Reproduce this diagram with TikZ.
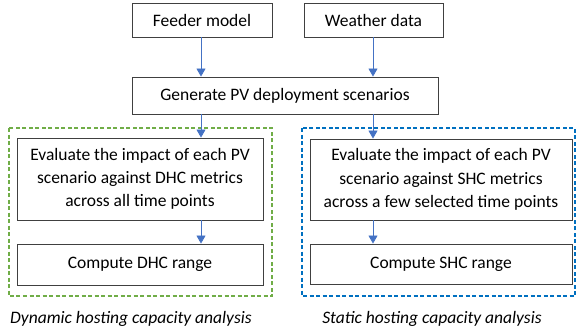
\documentclass[tikz,border=0pt]{standalone}
\usepackage{fontspec}
\setmainfont{Carlito}
\usetikzlibrary{arrows.meta}
\definecolor{boxline}{HTML}{404040}
\definecolor{arrowblue}{HTML}{4472C4}
\definecolor{dgreen}{HTML}{70AD47}
\definecolor{dblue}{HTML}{0070C0}
\tikzset{
  stepbox/.style={draw=boxline, line width=0.9pt, inner sep=0pt, align=center,
    font=\fontsize{17.5}{23.3}\selectfont, text=black},
  flow/.style={draw=arrowblue, line width=0.8pt, -{Triangle[length=8pt,width=9pt]}},
  grpbox/.style={line width=1.3pt, dash pattern=on 4pt off 2.5pt},
  caption/.style={font=\fontsize{17.5}{21}\selectfont\itshape, inner sep=0pt}
}
\begin{document}
\begin{tikzpicture}[x=1pt,y=-1pt]
\useasboundingbox (0,0) rectangle (576,333);
\node[stepbox, minimum width=140pt, minimum height=34pt] (feeder) at (202,20) {Feeder model};
\node[stepbox, minimum width=139pt, minimum height=34pt] (weather) at (373.5,20) {Weather data};
\node[stepbox, minimum width=306pt, minimum height=37pt] (gen) at (285,95.5) {Generate PV deployment scenarios};
\node[stepbox, minimum width=246pt, minimum height=82pt] (leval) at (140,179) {Evaluate the impact of each PV\\scenario against DHC metrics\\across all time points};
\node[stepbox, minimum width=246pt, minimum height=41pt] (lcomp) at (140,264.5) {Compute DHC range};
\node[stepbox, minimum width=262pt, minimum height=81pt] (reval) at (441,179.5) {Evaluate the impact of each PV\\scenario against SHC metrics\\across a few selected time points};
\node[stepbox, minimum width=262pt, minimum height=40pt] (rcomp) at (441,264) {Compute SHC range};
\coordinate (gl) at (9,128);
\coordinate (gr) at (272,296);
\coordinate (bl) at (302,128);
\coordinate (br) at (575,296);
\draw[grpbox, draw=dgreen] (gl) rectangle (gr);
\draw[grpbox, draw=dblue] (bl) rectangle (br);
\coordinate (la) at (201,0);
\coordinate (ra) at (373,0);
\draw[flow] (la |- feeder.south) -- (la |- gen.north);
\draw[flow] (ra |- weather.south) -- (ra |- gen.north);
\draw[flow] (la |- gen.south) -- (la |- leval.north);
\draw[flow] (ra |- gen.south) -- (ra |- reval.north);
\draw[flow] (la |- leval.south) -- (la |- lcomp.north);
\draw[flow] (ra |- reval.south) -- (ra |- rcomp.north);
\node[caption] (dyn) at (131,319) {Dynamic hosting capacity analysis};
\node[caption] (sta) at (432,319) {Static hosting capacity analysis};
\end{tikzpicture}
\end{document}
